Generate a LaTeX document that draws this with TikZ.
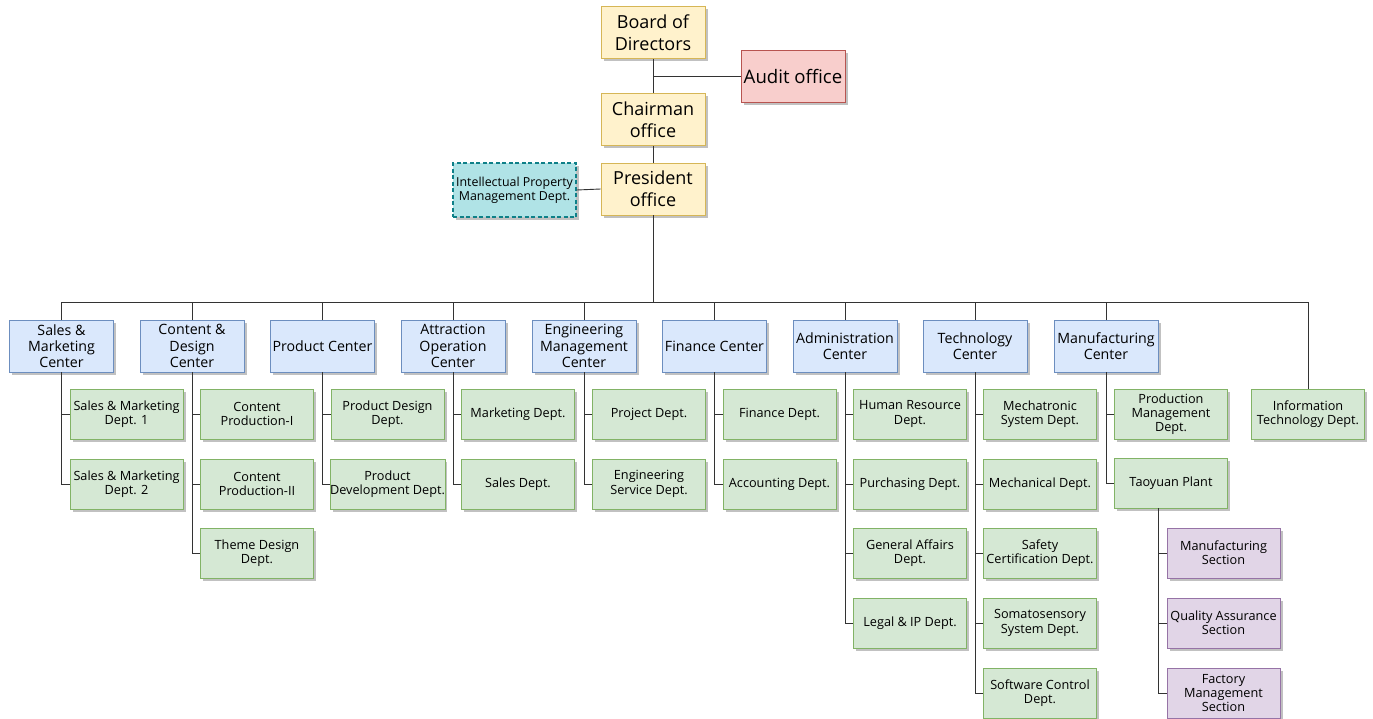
\documentclass[tikz,border=0pt]{standalone}
\usepackage{fontspec}
\setmainfont{Open Sans}
\usetikzlibrary{shadows}
\definecolor{yfill}{HTML}{FFF2CC}\definecolor{ydraw}{HTML}{D6B656}
\definecolor{rfill}{HTML}{F8CECC}\definecolor{rdraw}{HTML}{B85450}
\definecolor{bfill}{HTML}{DAE8FC}\definecolor{bdraw}{HTML}{6C8EBF}
\definecolor{gfill}{HTML}{D5E8D4}\definecolor{gdraw}{HTML}{82B366}
\definecolor{pfill}{HTML}{E1D5E7}\definecolor{pdraw}{HTML}{9673A6}
\definecolor{tfill}{HTML}{B0E3E6}\definecolor{tdraw}{HTML}{0E8088}
\definecolor{linec}{HTML}{333333}
\tikzset{
  box/.style={rectangle, inner sep=0pt, align=center, line width=0.8pt,
    drop shadow={shadow xshift=2.5pt, shadow yshift=-2.5pt, fill=black!30, opacity=0.8}},
  topbox/.style={box, fill=yfill, draw=ydraw, minimum width=104pt, minimum height=52pt,
    font=\fontsize{18}{22}\selectfont},
  auditbox/.style={box, fill=rfill, draw=rdraw, minimum width=104pt, minimum height=52pt,
    font=\fontsize{18.6}{22}\selectfont},
  ipbox/.style={box, fill=tfill, draw=tdraw, dash pattern=on 4pt off 2.5pt, line width=1.3pt,
    minimum width=123pt, minimum height=54pt,
    font=\fontsize{12.4}{14.3}\selectfont},
  centerbox/.style={box, fill=bfill, draw=bdraw, minimum width=104pt, minimum height=52pt,
    font=\fontsize{14.2}{16.3}\selectfont},
  deptbox/.style={box, fill=gfill, draw=gdraw, minimum width=113pt, minimum height=50pt,
    font=\fontsize{12.7}{14.3}\selectfont},
  secbox/.style={box, fill=pfill, draw=pdraw, minimum width=113pt, minimum height=50pt,
    font=\fontsize{12.7}{14.3}\selectfont},
  conn/.style={draw=linec, line width=0.9pt},
}
\begin{document}
\begin{tikzpicture}[x=1pt, y=-1pt]
\useasboundingbox (0,0) rectangle (1373,718);
% top
\node[topbox] (board) at (653,32.5) {Board of\\Directors};
\node[auditbox] (audit) at (793,76) {Audit office};
\node[topbox] (chair) at (653,119.5) {Chairman\\office};
\node[topbox] (pres) at (653,189) {President\\office};
\node[ipbox] (ip) at (514.5,190) {Intellectual Property\\Management Dept.};
\coordinate (bus) at (653,302);
% centers
\node[centerbox] (c1) at (61.5,346) {Sales \&\\Marketing\\Center};
\node[centerbox] (c2) at (192,346) {Content \&\\Design\\Center};
\node[centerbox] (c3) at (322.5,346) {Product Center};
\node[centerbox] (c4) at (453,346) {Attraction\\Operation\\Center};
\node[centerbox] (c5) at (584,346) {Engineering\\Management\\Center};
\node[centerbox] (c6) at (714.5,346) {Finance Center};
\node[centerbox] (c7) at (845,346) {Administration\\Center};
\node[centerbox] (c8) at (975,346) {Technology\\Center};
\node[centerbox] (c9) at (1106,346) {Manufacturing\\Center};
\node[deptbox] (it) at (1308,414) {Information\\Technology Dept.};
% departments
\node[deptbox] (d1a) at (126.5,414) {Sales \& Marketing\\Dept. 1};
\node[deptbox] (d1b) at (126.5,484) {Sales \& Marketing\\Dept. 2};
\node[deptbox] (d2a) at (257,414) {Content\\Production-I};
\node[deptbox] (d2b) at (257,484) {Content\\Production-II};
\node[deptbox] (d2c) at (257,553) {Theme Design\\Dept.};
\node[deptbox] (d3a) at (387.5,414) {Product Design\\Dept.};
\node[deptbox] (d3b) at (387.5,484) {Product\\Development Dept.};
\node[deptbox] (d4a) at (518,414) {Marketing Dept.};
\node[deptbox] (d4b) at (518,484) {Sales Dept.};
\node[deptbox] (d5a) at (649,414) {Project Dept.};
\node[deptbox] (d5b) at (649,484) {Engineering\\Service Dept.};
\node[deptbox] (d6a) at (779.5,414) {Finance Dept.};
\node[deptbox] (d6b) at (779.5,484) {Accounting Dept.};
\node[deptbox] (d7a) at (910,414) {Human Resource\\Dept.};
\node[deptbox] (d7b) at (910,484) {Purchasing Dept.};
\node[deptbox] (d7c) at (910,553) {General Affairs\\Dept.};
\node[deptbox] (d7d) at (910,623) {Legal \& IP Dept.};
\node[deptbox] (d8a) at (1040,414) {Mechatronic\\System Dept.};
\node[deptbox] (d8b) at (1040,484) {Mechanical Dept.};
\node[deptbox] (d8c) at (1040,553) {Safety\\Certification Dept.};
\node[deptbox] (d8d) at (1040,623) {Somatosensory\\System Dept.};
\node[deptbox] (d8e) at (1040,693) {Software Control\\Dept.};
\node[deptbox] (d9a) at (1171,414) {Production\\Management\\Dept.};
\node[deptbox] (d9b) at (1171,483) {Taoyuan Plant};
\node[secbox] (s1) at (1223.5,553) {Manufacturing\\Section};
\node[secbox] (s2) at (1223.5,623) {Quality Assurance\\Section};
\node[secbox] (s3) at (1223.5,693) {Factory\\Management\\Section};
% connectors
\draw[conn] (board.south) -- (chair.north);
\draw[conn] (chair.south) -- (pres.north);
\draw[conn] (audit.west) -- (audit.west -| board.south);
\draw[conn] (ip.east) -- (pres.west);
\draw[conn] (pres.south) -- (bus);
\draw[conn] (c1.north |- bus) -- (it.north |- bus);
\foreach \c in {c1,c2,c3,c4,c5,c6,c7,c8,c9,it}
  \draw[conn] (\c.north) -- (\c.north |- bus);
\foreach \c/\d in {c1/d1a,c1/d1b,c2/d2a,c2/d2b,c2/d2c,c3/d3a,c3/d3b,c4/d4a,c4/d4b,
  c5/d5a,c5/d5b,c6/d6a,c6/d6b,c7/d7a,c7/d7b,c7/d7c,c7/d7d,
  c8/d8a,c8/d8b,c8/d8c,c8/d8d,c8/d8e,c9/d9a,c9/d9b}
  \draw[conn] (\c.south) |- (\d.west);
\coordinate (tp) at ([xshift=-13pt]d9b.south);
\foreach \s in {s1,s2,s3}
  \draw[conn] (tp) |- (\s.west);
\end{tikzpicture}
\end{document}
